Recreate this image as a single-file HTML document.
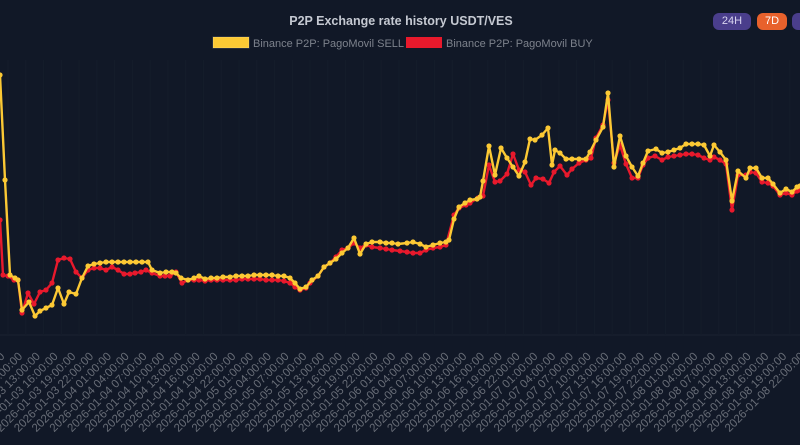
<!DOCTYPE html>
<html><head><meta charset="utf-8"><style>
html,body{margin:0;padding:0;background:#111827;width:800px;height:445px;overflow:hidden;font-family:"Liberation Sans",sans-serif}
.btn{position:absolute;top:13px;height:17px;border-radius:6px;color:#fff;font-size:11px;line-height:17px;text-align:center}
</style></head><body>
<svg id="s" width="800" height="445" style="position:absolute;left:0;top:0">
<text x="401" y="25" text-anchor="middle" font-size="12.5" font-weight="bold" fill="#c5c9d2">P2P Exchange rate history USDT/VES</text>
<rect x="213" y="37" width="36" height="11" fill="#fcc934" stroke="#fff" stroke-opacity="0.2"/>
<text x="253" y="47" font-size="11" fill="#7d828c">Binance P2P: PagoMovil SELL</text>
<rect x="406" y="37" width="36" height="11" fill="#e8192c"/>
<text x="446" y="47" font-size="11" fill="#7d828c">Binance P2P: PagoMovil BUY</text>
<g id="g"></g>
</svg>
<div class="btn" style="left:713px;width:38px;background:#4a3e8c;color:#d8d4f0">24H</div>
<div class="btn" style="left:757px;width:30px;background:#e8612c">7D</div>
<div class="btn" style="left:792px;width:20px;background:#4a3e8c"></div>
<script>
var g=document.getElementById('g'),ns='http://www.w3.org/2000/svg';
function el(t,a){var e=document.createElementNS(ns,t);for(var k in a)e.setAttribute(k,a[k]);g.appendChild(e);return e;}
el('line',{x1:0,y1:335,x2:800,y2:335,stroke:'#1a2230','stroke-width':1});
for(var i=-1;i<45;i++){
 var x=23+i*17.77; var h=10+i*3; var d=3+Math.floor(h/24); h=((h%24)+24)%24;
 if(i==-1){d=3;h=7;}
 var lab='2026-01-'+('0'+d).slice(-2)+' '+('0'+h).slice(-2)+':00:00';
 el('line',{x1:x-15,y1:60,x2:x-15,y2:335,stroke:'#151d2b','stroke-width':1});
 var t=el('text',{x:x,y:357,'text-anchor':'end','font-size':'11.5',fill:'#686d77',transform:'rotate(-45 '+x+' 357)'});t.textContent=lab;
}
var Y=[[0,75],[5,180],[10,275],[15,278],[18,280],[22,310],[29,302],[35,316],[40,311],[46,308],[52,305],[58,288],[64,304],[69,292],[76,294],[82,278],[88,266],[94,264],[100,263],[106,262],[112,262],[118,262],[124,262],[130,262],[136,262],[142,262],[148,262],[152,270],[160,273],[166,272],[172,272],[176,273],[181,278],[188,280],[194,278],[199,276],[205,279],[211,278],[217,278],[223,277],[230,277],[236,276],[242,276],[248,276],[254,275],[260,275],[266,275],[272,275],[278,276],[284,276],[290,278],[295,283],[300,289],[306,287],[312,280],[318,276],[324,267],[330,263],[336,259],[342,253],[348,248],[354,238],[360,254],[366,244],[372,242],[380,242],[386,243],[392,243],[398,244],[407,243],[413,242],[420,244],[426,247],[433,245],[440,243],[446,242],[449,240],[454,219],[459,207],[465,203],[470,200],[477,199],[480,197],[483,181],[489,146],[495,175],[501,148],[507,158],[513,167],[519,176],[525,162],[530,139],[535,140],[542,135],[548,128],[552,165],[555,150],[560,153],[566,159],[572,159],[579,159],[586,159],[590,152],[596,140],[603,127],[608,93],[614,167],[620,136],[626,156],[632,167],[638,176],[643,163],[648,151],[656,149],[662,153],[668,152],[674,150],[680,148],[686,144],[692,144],[698,144],[704,145],[710,156],[714,145],[720,152],[726,160],[732,201],[738,171],[746,178],[750,168],[756,168],[762,178],[768,178],[773,184],[780,193],[786,189],[792,192],[797,187],[800,186]];
var R=[[0,220],[3,275],[8,276],[14,280],[18,280],[22,313],[28,293],[34,304],[40,292],[46,290],[52,283],[58,260],[64,258],[70,259],[76,272],[82,278],[88,270],[94,268],[100,268],[106,270],[112,267],[118,270],[124,274],[130,274],[135,273],[141,272],[146,270],[152,273],[160,276],[165,276],[170,276],[176,272],[182,283],[188,280],[194,280],[199,280],[205,281],[211,280],[217,280],[223,280],[230,280],[236,280],[242,279],[248,279],[254,279],[260,279],[266,280],[272,280],[278,280],[284,281],[290,283],[295,287],[300,290],[306,288],[310,283],[318,276],[324,267],[330,263],[336,257],[342,250],[348,248],[354,243],[360,248],[366,245],[372,247],[380,248],[386,249],[392,250],[400,251],[407,252],[413,253],[420,253],[426,250],[433,248],[440,247],[446,245],[454,215],[459,208],[466,205],[470,203],[478,198],[483,196],[489,165],[495,182],[500,181],[507,174],[513,154],[519,170],[525,172],[531,185],[536,178],[543,179],[549,183],[554,172],[560,166],[567,175],[572,169],[579,163],[586,160],[591,158],[596,138],[603,125],[608,100],[614,163],[620,145],[626,164],[632,178],[638,178],[643,165],[648,158],[655,156],[662,160],[668,157],[674,156],[680,155],[686,154],[692,154],[698,155],[704,158],[710,160],[714,157],[720,160],[726,164],[732,210],[738,175],[746,175],[750,172],[756,173],[762,182],[768,183],[773,186],[780,195],[786,193],[792,195],[797,191],[800,190]];
function draw(P,c){
 el('polyline',{points:P.map(function(p){return p.join(',')}).join(' '),fill:'none',stroke:c,'stroke-width':2.4,'stroke-linejoin':'round'});
 P.forEach(function(p){el('circle',{cx:p[0],cy:p[1],r:2.6,fill:c});});
}
draw(R,'#e8192c');draw(Y,'#fcc934');
</script>
</body></html>
